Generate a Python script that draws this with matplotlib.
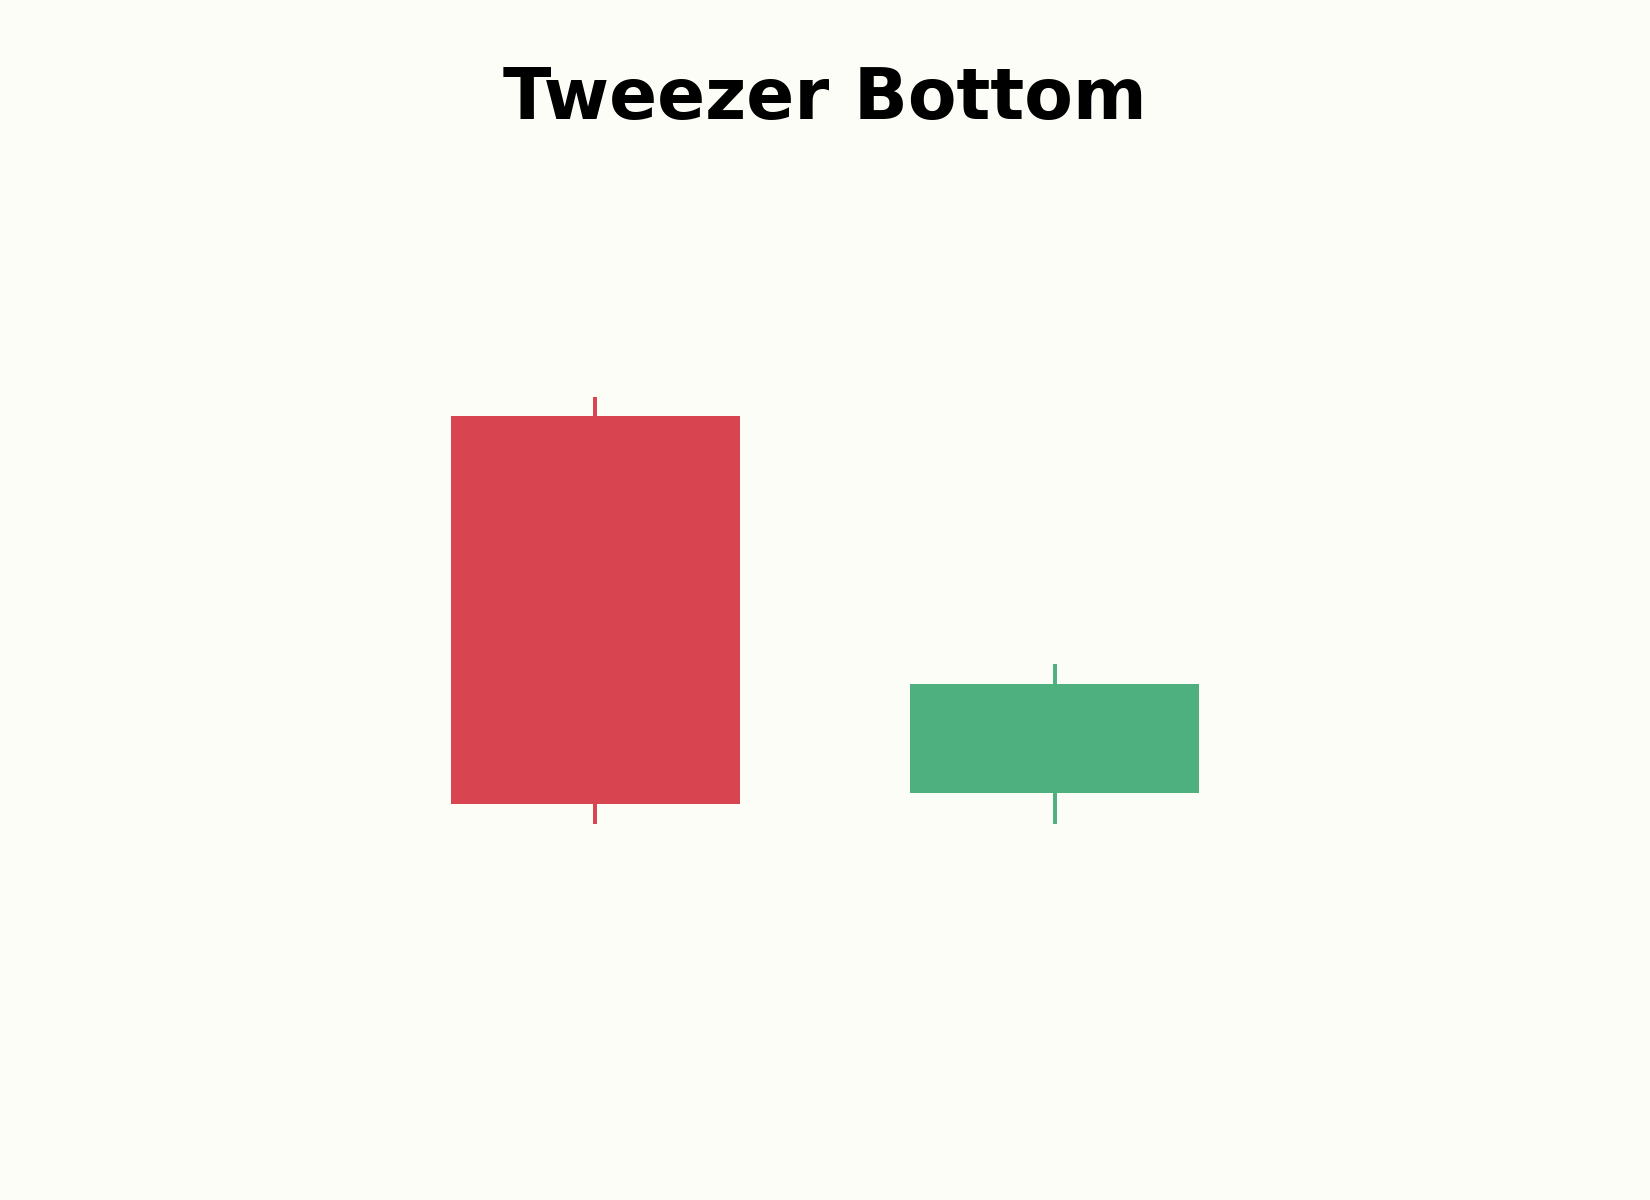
import numpy as np
import matplotlib.pyplot as plt

# two candles: bearish then bullish, equal lows
x = [0, 1]
opens = [120.4, 101.55]
closes = [101.0, 107.0]
highs = [121.35, 108.0]
lows = [100.0, 100.0]
colors = ['#D84550', '#4EB07F']

bg = '#FDFDF8'
fig = plt.figure(figsize=(11, 8), dpi=150, facecolor=bg)
ax = fig.add_axes([0, 0, 1, 1])
ax.set_facecolor(bg)

for i in range(len(x)):
    ax.vlines(x[i], lows[i], highs[i], color=colors[i], linewidth=1.9, zorder=1)
    bottom = min(opens[i], closes[i])
    height = abs(closes[i] - opens[i])
    ax.bar(x[i], height, bottom=bottom, width=0.63, color=colors[i], zorder=2)

ax.set_xlim(-1.297, 2.297)
ax.set_ylim(81.2, 141.2)
ax.axis('off')

fig.text(0.5, 1 - 119 / 1200, 'Tweezer Bottom', ha='center', va='baseline',
         fontsize=34, fontweight='bold')

fig.savefig('out.png', facecolor=bg)
